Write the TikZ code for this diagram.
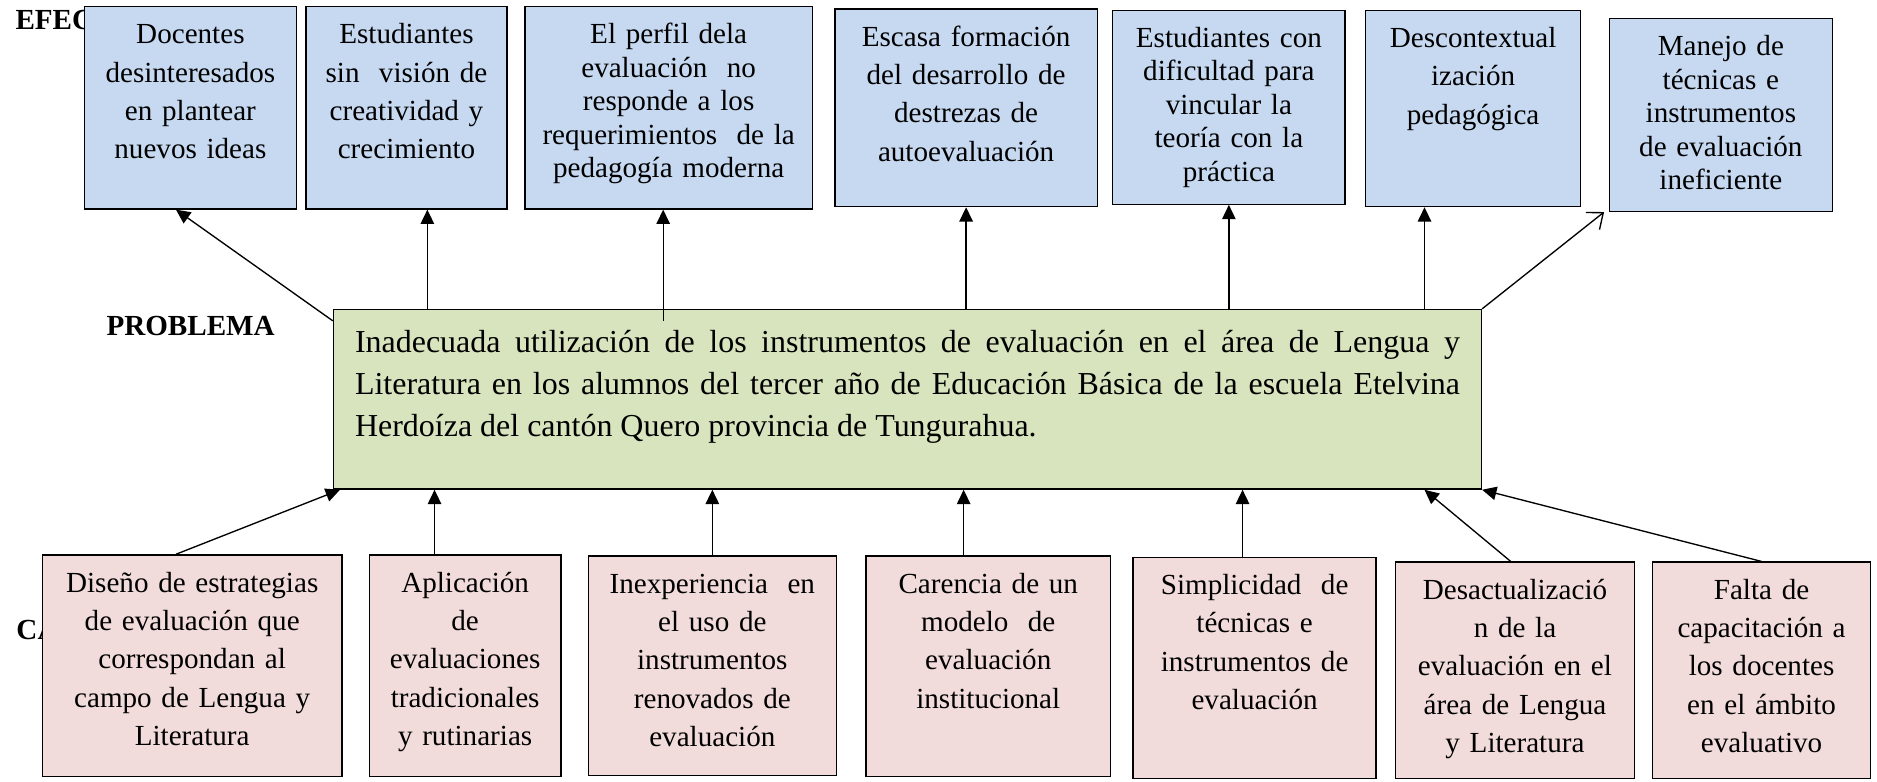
\documentclass[tikz,border=0pt]{standalone}
\usepackage{fontspec}
\setmainfont{Liberation Serif}
\usetikzlibrary{arrows.meta}
\definecolor{azul}{HTML}{C6D9F1}
\definecolor{verde}{HTML}{D7E4BD}
\definecolor{rosa}{HTML}{F2DCDB}
\hyphenpenalty=10000

\begin{document}
\begin{tikzpicture}[
   caja/.style={draw, line width=0.8pt, align=center, inner xsep=0.05cm, inner ysep=0pt,
                anchor=north west, text height=0.775cm},
   efecto/.style={caja, fill=azul},
   causa/.style={caja, fill=rosa},
   holgado/.style={font=\fontsize{17.3}{22.8}\selectfont},
   apretado/.style={font=\fontsize{17.3}{19.9}\selectfont},
   titulo/.style={font=\fontsize{17.3}{20}\selectfont\bfseries, anchor=base west},
   flecha/.style={line width=0.8pt, -{Triangle[length=8.5pt,width=8pt]}}]
   \useasboundingbox (0,0) rectangle (39.2,-16.325);

   % titulos (quedan detras de las cajas)
   \node[titulo] (efectos) at (0.2,-0.6125) {EFEC};
   \node[titulo] (problema) at (2.1,-7.0) {PROBLEMA};
   \node[titulo] (causas) at (0.22,-13.35) {CA};

   % efectos
   \node[efecto, holgado, text width=4.325cm, text depth=3.45cm] (e1) at (1.75,-0.125)
      {Docentes\\desinteresados\\en plantear\\nuevos ideas};
   \node[efecto, holgado, text width=4.1cm, text depth=3.45cm] (e2) at (6.375,-0.125)
      {Estudiantes\\sin~ visión de\\creatividad y\\crecimiento};
   \node[efecto, apretado, text width=5.9cm, text depth=3.45cm] (e3) at (10.95,-0.125)
      {El perfil dela\\evaluación~ no\\responde a los\\requerimientos~ de la\\pedagogía moderna};
   \node[efecto, holgado, text width=5.375cm, text depth=3.35cm] (e4) at (17.425,-0.175)
      {Escasa formación\\del desarrollo de\\destrezas de\\autoevaluación};
   \node[efecto, apretado, text width=4.75cm, text depth=3.275cm] (e5) at (23.225,-0.2)
      {Estudiantes con\\dificultad para\\vincular la\\teoría con la\\práctica};
   \node[efecto, holgado, text width=4.4cm, text depth=3.325cm] (e6) at (28.5,-0.2)
      {Descontextual\\ización\\pedagógica};
   \node[efecto, apretado, text width=4.55cm, text depth=3.25cm] (e7) at (33.6,-0.375)
      {Manejo de\\técnicas e\\instrumentos\\de evaluación\\ineficiente};

   % problema
   \node[caja, fill=verde, align=justify, font=\fontsize{19}{24.9}\selectfont,
         text width=23.075cm, inner xsep=0.45cm, text height=0.9cm, text depth=2.85cm] (prob) at (6.95,-6.45)
      {Inadecuada utilización de los instrumentos de evaluación en el área de Lengua y\linebreak
       Literatura en los alumnos del tercer año de Educación Básica de la escuela Etelvina\linebreak
       Herdoíza del cantón Quero provincia de Tungurahua.};

   % causas
   \node[causa, holgado, text width=6.15cm, text depth=3.85cm] (c1) at (0.875,-11.575)
      {Diseño de estrategias\\de evaluación que\\correspondan al\\campo de Lengua y\\Literatura};
   \node[causa, holgado, text width=3.9cm, text depth=3.85cm] (c2) at (7.7,-11.575)
      {Aplicación\\de\\evaluaciones\\tradicionales\\y rutinarias};
   \node[causa, holgado, text width=5.075cm, text depth=3.8cm] (c3) at (12.275,-11.6)
      {Inexperiencia~ en\\el uso de\\instrumentos\\renovados de\\evaluación};
   \node[causa, holgado, text width=5.0cm, text depth=3.825cm] (c4) at (18.075,-11.6)
      {Carencia de un\\modelo~ de\\evaluación\\institucional};
   \node[causa, holgado, text width=4.975cm, text depth=3.85cm] (c5) at (23.65,-11.625)
      {Simplicidad~ de\\técnicas e\\instrumentos de\\evaluación};
   \node[causa, holgado, text width=4.9cm, text depth=3.75cm] (c6) at (29.125,-11.725)
      {Desactualizació\\n de la\\evaluación en el\\área de Lengua\\y Literatura};
   \node[causa, holgado, text width=4.45cm, text depth=3.75cm] (c7) at (34.5,-11.725)
      {Falta de\\capacitación a\\los docentes\\en el ámbito\\evaluativo};

   % flechas hacia los efectos
   \coordinate (p3) at (13.85,-6.7);
   \draw[flecha] ([yshift=-0.25cm]prob.north west) -- (e1.south -| 3.675,0);
   \draw[flecha] (prob.north -| 8.925,0) -- (e2.south -| 8.925,0);
   \draw[flecha] (p3) -- (e3.south -| p3);
   \draw[flecha] (prob.north -| e4.south) -- (e4.south);
   \draw[flecha] (prob.north -| e5.south) -- (e5.south);
   \draw[flecha] (prob.north -| 29.75,0) -- (e6.south -| 29.75,0);
   \draw[line width=0.8pt, -{Straight Barb[length=8pt,width=13pt]}] (prob.north east) -- ([xshift=-0.1cm]e7.south west);

   % flechas desde las causas
   \draw[flecha] (c1.north -| 3.675,0) -- ([xshift=0.15cm]prob.south west);
   \draw[flecha] (c2.north -| 9.075,0) -- (prob.south -| 9.075,0);
   \draw[flecha] (c3.north) -- (prob.south -| c3.north);
   \draw[flecha] (c4.north -| 20.125,0) -- (prob.south -| 20.125,0);
   \draw[flecha] (c5.north -| 25.95,0) -- (prob.south -| 25.95,0);
   \draw[flecha] (c6.north -| 31.55,0) -- (prob.south -| 29.75,0);
   \draw[flecha] (c7.north) -- (prob.south east);
\end{tikzpicture}
\end{document}
